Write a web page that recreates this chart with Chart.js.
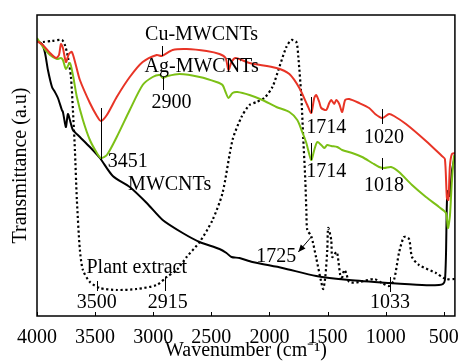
<!DOCTYPE html>
<html>
<head>
<meta charset="utf-8">
<script src="https://cdn.jsdelivr.net/npm/chart.js@4"></script>
<style>
  html, body { margin: 0; padding: 0; background: #fff; }
</style>
</head>
<body>
<canvas id="chart" width="461" height="363"></canvas>
<script>
// x ticks (wavenumber, cm-1)
const xTicks = [4000, 3500, 3000, 2500, 2000, 1500, 1000, 500];

// Cu-MWCNTs (red)
const cuWave = [4000, 3949, 3888, 3837, 3811, 3794, 3777, 3751, 3726, 3700, 3666, 3631, 3545, 3485, 3451, 3399, 3314, 3202, 3091, 2970, 2928, 2833, 2713, 2541, 2430, 2378, 2353, 2327, 2292, 2172, 1941, 1829, 1743, 1675, 1641, 1615, 1598, 1572, 1555, 1512, 1486, 1469, 1443, 1426, 1400, 1375, 1349, 1314, 1229, 1143, 1091, 1031, 971, 929, 826, 654, 517, 491, 474, 461, 448, 431, 405];
const cuT    = [275, 271, 263, 258, 261, 272, 268, 254, 262, 264, 251, 236, 213, 200, 195, 201, 219, 239, 254, 261, 260, 266, 267, 265, 262, 258, 246, 254, 258, 253, 248, 242, 228, 211, 203, 218, 221, 214, 208, 206, 213, 216, 212, 216, 212, 204, 216, 217, 213, 208, 202, 198, 202, 200, 192, 175, 160, 157, 118, 116, 150, 162, 163];

// Ag-MWCNTs (green)
const agWave = [4000, 3949, 3888, 3828, 3794, 3777, 3751, 3717, 3691, 3657, 3605, 3545, 3485, 3451, 3399, 3314, 3202, 3091, 3005, 2945, 2919, 2876, 2773, 2601, 2456, 2404, 2378, 2353, 2318, 2276, 2172, 2061, 1941, 1829, 1761, 1718, 1683, 1641, 1615, 1589, 1555, 1529, 1503, 1469, 1417, 1375, 1289, 1203, 1117, 1057, 1014, 954, 886, 774, 654, 542, 482, 465, 448, 431, 413, 405];
const agT    = [278, 269, 261, 257, 258, 256, 247, 253, 241, 219, 196, 176, 163, 158, 161, 179, 206, 231, 239, 241, 238, 240, 242, 239, 234, 231, 224, 218, 223, 224, 221, 216, 209, 204, 196, 184, 173, 156, 166, 174, 171, 168, 171, 170, 169, 166, 163, 159, 153, 149, 148, 149, 144, 131, 119, 109, 103, 88, 100, 135, 160, 161];

// MWCNTs (black)
const cntWave = [4000, 3957, 3931, 3906, 3871, 3846, 3820, 3786, 3777, 3760, 3751, 3734, 3717, 3691, 3631, 3545, 3459, 3348, 3202, 3056, 2919, 2747, 2601, 2430, 2370, 2327, 2258, 2147, 1889, 1598, 1314, 971, 688, 542, 508, 491, 482, 474, 465, 448, 431, 405];
const cntT    = [275, 272, 263, 246, 229, 224, 218, 206, 204, 193, 189, 202, 196, 186, 179, 169, 158, 140, 129, 113, 96, 83, 74, 67, 63, 59, 58, 54, 48, 40, 36, 33, 31, 31, 32, 36, 60, 113, 125, 120, 145, 160];

// Plant extract (dotted)
const plantWave = [3949, 3871, 3786, 3760, 3734, 3708, 3691, 3674, 3657, 3631, 3605, 3545, 3459, 3314, 3142, 2970, 2885, 2799, 2713, 2601, 2490, 2404, 2318, 2241, 2172, 2112, 2044, 1975, 1915, 1855, 1812, 1769, 1752, 1726, 1709, 1692, 1683, 1675, 1641, 1598, 1555, 1538, 1520, 1503, 1495, 1469, 1460, 1426, 1417, 1383, 1357, 1340, 1314, 1229, 1100, 1031, 971, 929, 886, 843, 800, 774, 714, 568, 482, 405];
const plantT    = [274, 275, 276, 271, 259, 239, 206, 166, 116, 66, 46, 34, 28, 26, 27, 31, 39, 46, 59, 74, 96, 123, 176, 199, 211, 214, 218, 229, 249, 269, 276, 274, 259, 219, 176, 136, 106, 86, 80, 58, 34, 27, 39, 66, 88, 76, 59, 64, 63, 36, 46, 43, 34, 34, 37, 33, 30, 36, 63, 79, 77, 59, 51, 43, 37, 37];

// text labels and marker ticks on the plot, in data units
const noteLabels = [
  { text: "Cu-MWCNTs",     x: 2584, y: 281 },
  { text: "Ag-MWCNTs",     x: 2584, y: 249 },
  { text: "2900",          x: 2842, y: 213 },
  { text: "3451",          x: 3219, y: 154 },
  { text: "MWCNTs",        x: 2859, y: 131 },
  { text: "Plant extract", x: 3142, y: 48 },
  { text: "3500",          x: 3485, y: 13 },
  { text: "2915",          x: 2876, y: 13 },
  { text: "1714",          x: 1512, y: 188 },
  { text: "1714",          x: 1512, y: 144 },
  { text: "1020",          x: 1014, y: 178 },
  { text: "1018",          x: 1014, y: 130 },
  { text: "1725",          x: 1941, y: 59 },
  { text: "1033",          x: 963,  y: 13 }
];
const noteMarks = [
  { x: 2928, y1: 270, y2: 260 },
  { x: 2919, y1: 239, y2: 226 },
  { x: 3451, y1: 208, y2: 156 },
  { x: 3485, y1: 35,  y2: 25 },
  { x: 2902, y1: 39,  y2: 25 },
  { x: 1641, y1: 219, y2: 203 },
  { x: 1641, y1: 173, y2: 156 },
  { x: 1031, y1: 207, y2: 192 },
  { x: 1031, y1: 158, y2: 146 },
  { x: 963,  y1: 39,  y2: 24 }
];
const arrow1725 = { x1: 1641, y1: 79, x2: 1752, y2: 64 };

const SERIF = '"Liberation Serif", "Times New Roman", serif';

function pts(xs, ys) {
  return xs.map((x, i) => ({ x: x, y: ys[i] }));
}

const overlay = {
  id: "overlay",
  afterDraw(chart) {
    const ctx = chart.ctx;
    const xs = chart.scales.x, ys = chart.scales.y;
    const a = chart.chartArea;
    ctx.save();
    ctx.strokeStyle = "#000";
    ctx.fillStyle = "#000";

    // frame
    ctx.lineWidth = 1.5;
    ctx.strokeRect(a.left, a.top, a.right - a.left, a.bottom - a.top);

    // inward ticks
    ctx.lineWidth = 1;
    xTicks.forEach(v => {
      const px = Math.round(xs.getPixelForValue(v)) + 0.5;
      ctx.beginPath();
      ctx.moveTo(px, a.bottom);
      ctx.lineTo(px, a.bottom - 4);
      ctx.stroke();
    });

    // marker lines
    noteMarks.forEach(m => {
      const px = Math.round(xs.getPixelForValue(m.x)) + 0.5;
      ctx.beginPath();
      ctx.moveTo(px, ys.getPixelForValue(m.y1));
      ctx.lineTo(px, ys.getPixelForValue(m.y2));
      ctx.stroke();
    });

    // arrow for 1725
    const x1 = xs.getPixelForValue(arrow1725.x1), y1 = ys.getPixelForValue(arrow1725.y1);
    const x2 = xs.getPixelForValue(arrow1725.x2), y2 = ys.getPixelForValue(arrow1725.y2);
    ctx.beginPath();
    ctx.moveTo(x1, y1);
    ctx.lineTo(x2, y2);
    ctx.stroke();
    const ang = Math.atan2(y2 - y1, x2 - x1);
    ctx.beginPath();
    ctx.moveTo(x2, y2);
    ctx.lineTo(x2 - 8 * Math.cos(ang - 0.4), y2 - 8 * Math.sin(ang - 0.4));
    ctx.lineTo(x2 - 8 * Math.cos(ang + 0.4), y2 - 8 * Math.sin(ang + 0.4));
    ctx.closePath();
    ctx.fill();

    // labels
    ctx.font = "20px " + SERIF;
    ctx.textAlign = "center";
    ctx.textBaseline = "middle";
    noteLabels.forEach(n => {
      ctx.fillText(n.text, xs.getPixelForValue(n.x), ys.getPixelForValue(n.y));
    });
    ctx.restore();
  }
};

new Chart(document.getElementById("chart"), {
  type: "line",
  data: {
    datasets: [
      { label: "Cu-MWCNTs", data: pts(cuWave, cuT), borderColor: "rgb(232, 52, 38)", borderWidth: 2 },
      { label: "Ag-MWCNTs", data: pts(agWave, agT), borderColor: "rgb(124, 192, 22)", borderWidth: 2 },
      { label: "MWCNTs", data: pts(cntWave, cntT), borderColor: "#000", borderWidth: 2 },
      { label: "Plant extract", data: pts(plantWave, plantT), borderColor: "#000", borderWidth: 2.2, borderDash: [2.2, 2.6] }
    ]
  },
  options: {
    responsive: false,
    animation: false,
    layout: { padding: { top: 15, right: 5, left: 0, bottom: 0 } },
    elements: {
      point: { radius: 0 },
      line: { tension: 0.25, fill: false }
    },
    plugins: {
      legend: { display: false },
      tooltip: { enabled: false }
    },
    scales: {
      x: {
        type: "linear",
        reverse: true,
        min: 405,
        max: 4000,
        afterBuildTicks: axis => { axis.ticks = xTicks.map(v => ({ value: v })); },
        afterFit: axis => { axis.height = 47; },
        grid: { display: false },
        border: { display: false },
        ticks: { color: "#000", font: { family: SERIF, size: 20 }, padding: 2, maxRotation: 0, autoSkip: false, callback: v => String(v) },
        title: { display: true, text: "Wavenumber (cm\u207B\u00B9)", color: "#000", font: { family: SERIF, size: 20 }, padding: { top: 0, bottom: 0 } }
      },
      y: {
        type: "linear",
        min: 0,
        max: 301,
        afterFit: axis => { axis.width = 37; },
        grid: { display: false },
        border: { display: false },
        ticks: { display: false },
        title: { display: true, text: "Transmittance (a.u)", color: "#000", font: { family: SERIF, size: 20 }, padding: { top: 9, bottom: 0 } }
      }
    }
  },
  plugins: [overlay]
});
</script>
</body>
</html>
